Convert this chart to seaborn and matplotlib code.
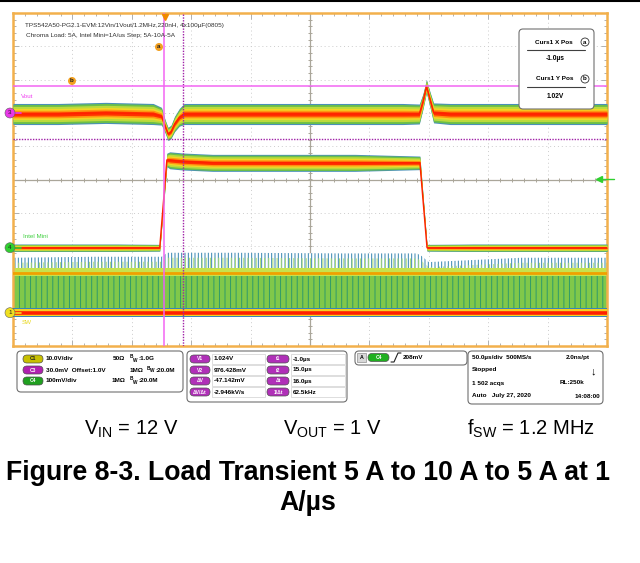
import numpy as np
import matplotlib
matplotlib.use('Agg')
import matplotlib.pyplot as plt
import matplotlib.transforms as mtransforms
from matplotlib.patches import FancyBboxPatch, Circle, Rectangle
from matplotlib.lines import Line2D
from matplotlib.ticker import MultipleLocator
import seaborn as sns

# ---- values (time in us) ----
# C3: Vout, volts
vout_t = [-128, -90, -50, -10, -3, 0, 2.5, 5, 8, 12, 16, 40, 100, 160, 200, 214, 217, 220, 223, 226, 240, 300, 340, 372]
vout_v = [0.999, 0.999, 1.000, 0.999, 0.997, 0.988, 0.981, 0.983, 0.990, 0.996, 0.999, 0.999, 0.999, 0.999,
          0.999, 0.999, 1.010, 1.024, 1.012, 1.000, 0.999, 0.999, 0.999, 0.999]
vout_noise = [0.0095, 0.0095, 0.0095, 0.0095, 0.008, 0.006, 0.006, 0.006, 0.007, 0.008, 0.0095, 0.0095, 0.0095,
              0.0095, 0.0095, 0.009, 0.007, 0.006, 0.007, 0.009, 0.0095, 0.0095, 0.0095, 0.0095]

# C4: Intel Mini step current, amps (on top of 5 A Chroma load)
load_t = [-128, -40, -4.5, 1.5, 4, 15, 40, 100, 160, 214.5, 220.5, 260, 372]
load_a = [0, 0, 0, 5.17, 5.15, 5.08, 5.0, 5.0, 5.0, 5.0, 0, 0, 0]
load_noise = [0.22, 0.22, 0.2, 0.4, 0.5, 0.5, 0.5, 0.5, 0.5, 0.4, 0.2, 0.22, 0.22]

# C1: SW node, volts (on level and ringing peak envelope)
sw_t = [-128, -60, -3, 2, 60, 150, 212, 216, 222, 240, 300, 372]
sw_peak = [16.5, 16.8, 16.8, 18.0, 18.0, 17.8, 17.8, 17.0, 15.2, 15.5, 16.5, 16.5]
sw_on = 11.8

# cursors and trigger
curs_t = [-1.0, 15.0]
curs_v = [1.024, 0.976428]
trig_mv = 208

# channel setup: (volts per div, offset, position in div)
vout_vdiv, vout_off, vout_pos = 0.030, 1.0, 2.0
load_vdiv, load_sense, load_pos = 0.100, 0.051, -2.05
sw_vdiv, sw_pos = 10.0, -4.0

t_left, t_div = -128, 50

def vout_y(v):
    return vout_pos + (np.asarray(v) - vout_off) / vout_vdiv

def load_y(a):
    return load_pos + np.asarray(a) * load_sense / load_vdiv

def sw_y(v):
    return sw_pos + np.asarray(v) / sw_vdiv

sns.set_theme(style='white')
plt.rcParams['font.family'] = ['Liberation Sans', 'DejaVu Sans']
plt.rcParams['mathtext.default'] = 'regular'
plt.rcParams['hatch.linewidth'] = 0.7
plt.rcParams['text.color'] = 'black'

W, H = 640, 563
fig = plt.figure(figsize=(W / 100, H / 100), dpi=100)
PX = mtransforms.IdentityTransform()

def txt(x, y, s, **kw):
    kw.setdefault('va', 'center')
    kw.setdefault('zorder', 12)
    kw.setdefault('color', 'black')
    fig.text(x, H - y, s, transform=PX, **kw)

def box(x0, y0, x1, y1, ec='#707070', fc='white', r=4, lw=0.8, z=5):
    fig.add_artist(FancyBboxPatch((x0, H - y1), x1 - x0, y1 - y0,
                                  boxstyle=f'round,pad=0,rounding_size={r}',
                                  transform=PX, ec=ec, fc=fc, lw=lw, zorder=z))

def hline(x0, x1, y, **kw):
    fig.add_artist(Line2D([x0, x1], [H - y, H - y], transform=PX, **kw))

ax = fig.add_axes([13 / W, (H - 346) / H, 594 / W, 333 / H])
ax.set_xlim(t_left, t_left + 10 * t_div)
ax.set_ylim(-5, 5)
ax.set_facecolor('white')

# graticule
ax.xaxis.set_major_locator(MultipleLocator(50, offset=22))
ax.xaxis.set_minor_locator(MultipleLocator(10, offset=2))
ax.yaxis.set_major_locator(MultipleLocator(1))
ax.yaxis.set_minor_locator(MultipleLocator(0.2))
ax.grid(True, which='major', color='#cccccc', ls=(0, (1, 3)), lw=0.7)
ax.tick_params(which='both', direction='in', top=True, right=True, bottom=True, left=True,
               labelbottom=False, labelleft=False, color='#b0b0b0', width=0.7)
ax.tick_params(which='major', length=4)
ax.tick_params(which='minor', length=2.5)
for s in ax.spines.values():
    s.set_color('#f2b04c')
    s.set_linewidth(1.8)
t_mid = t_left + 5 * t_div
ax.axhline(0, color='#aaa69a', lw=0.9, zorder=1)
ax.axvline(t_mid, color='#aaa69a', lw=0.9, zorder=1)
ax.plot(np.arange(t_left, t_left + 501, 10), np.zeros(51), ls='none', marker='|', ms=3.5, color='#aaa69a', mew=0.7)
ax.plot(np.full(51, t_mid), np.arange(-5, 5.01, 0.2), ls='none', marker='_', ms=3.5, color='#aaa69a', mew=0.7)

# persistence colour layers
LAYERS = [(1.0, '#4a90b8'), (0.9, '#6cbf48'), (0.72, '#bcda3c'), (0.52, '#f2d626'),
          (0.36, '#ff9410'), (0.2, '#ff3000')]

def persist(t, yc, hw):
    yc = np.asarray(yc)
    hw = np.asarray(hw)
    for f, c in LAYERS:
        ax.fill_between(t, yc - f * hw, yc + f * hw, color=c, lw=0, zorder=3)
    sns.lineplot(x=t, y=yc, ax=ax, color='#ff2000', lw=1.0, sort=False, estimator=None, zorder=4)

# SW node: dense switching band
sw_top = sw_y(sw_peak)
on_y = float(sw_y(sw_on))
ax.fill_between(sw_t, on_y, sw_top, facecolor='white', edgecolor='#3584b0', hatch='|||||', lw=0, zorder=2)
ax.fill_between(sw_t, on_y + 0.05, sw_top - 0.15, facecolor='none', edgecolor='#a8dc70', hatch='||||', lw=0, zorder=2)
ax.fill_between(sw_t, sw_pos, on_y, facecolor='#80c84a', edgecolor='#2f9a6a', hatch='|||', lw=0, zorder=2)
ax.fill_between(sw_t, on_y - 0.08, on_y + 0.15, color='#c6e24e', lw=0, zorder=2)
sns.lineplot(x=sw_t, y=[on_y] * len(sw_t), ax=ax, color='#f0a000', lw=2.0, zorder=3)
ax.fill_between(sw_t, sw_pos - 0.14, sw_pos + 0.14, color='#3a84b8', lw=0, zorder=3)
ax.fill_between(sw_t, sw_pos - 0.1, sw_pos + 0.1, color='#f4d020', lw=0, zorder=3)
sns.lineplot(x=sw_t, y=[sw_pos] * len(sw_t), ax=ax, color='#ff2000', lw=2.6, zorder=4)

# Load current and Vout
persist(load_t, load_y(load_a), np.asarray(load_noise) * load_sense / load_vdiv)
persist(vout_t, vout_y(vout_v), np.asarray(vout_noise) / vout_vdiv)

# cursors
ax.axvline(curs_t[0], color='#f266f2', lw=1.1, zorder=6)
ax.axvline(curs_t[1], color='#a020a8', lw=1.0, ls=(0, (1, 1)), zorder=6)
ax.axhline(float(vout_y(curs_v[0])), color='#f266f2', lw=1.1, zorder=6)
ax.axhline(float(vout_y(curs_v[1])), color='#a020a8', lw=1.0, ls=(0, (1, 1)), zorder=6)

# trigger marks
ax.plot([0], [4.88], marker='v', ms=5, color='#f08a00', clip_on=False, zorder=7)
trig_y = float(load_y(0) + trig_mv / 1000 / load_vdiv)
ax.plot([365], [trig_y], marker='<', ms=5, color='#30d030', clip_on=False, zorder=7)
ax.plot([365, 378], [trig_y, trig_y], color='#30d030', lw=1.0, clip_on=False, zorder=7)

# screen annotations
txt(25, 25, 'TPS542A50-PG2.1-EVM:12Vin/1Vout/1.2MHz,220nH, 4x100\u00b5F(0805)', fontsize=4.6, color='#303030')
txt(26, 36, 'Chroma Load: 5A, Intel Mini=1A/us Step; 5A-10A-5A', fontsize=4.6, color='#303030')
for x, y, s in [(159, 47, 'a'), (72, 81, 'b')]:
    fig.add_artist(Circle((x, H - y), 4, transform=PX, fc='#f2a020', ec='none', zorder=8))
    txt(x, y, s, fontsize=4.5, ha='center', fontweight='bold', color='#202020')
txt(21, 96, 'Vout', fontsize=4.5, color='#f040f0')
txt(23, 237, 'Intel Mini', fontsize=4.5, color='#40d040')
txt(22, 323, 'SW', fontsize=4.5, color='#e8d820')
for y, s, c in [(113, '3', '#e838e8'), (247.7, '4', '#30d030'), (312.7, '1', '#f0e020')]:
    fig.add_artist(Line2D([12, 21], [H - y, H - y], transform=PX, color=c, lw=1.2, zorder=8))
    fig.add_artist(Circle((10, H - y), 5, transform=PX, fc=c, ec='#606060', lw=0.4, zorder=9))
    txt(10, y, s, fontsize=4.5, ha='center', color='#202020')

# cursor readout
box(519, 29, 594, 109, r=4, z=8)
txt(573, 42, 'Curs1 X Pos', fontsize=4.6, ha='right', fontweight='bold')
txt(573, 79, 'Curs1 Y Pos', fontsize=4.6, ha='right', fontweight='bold')
for y, s in [(42, 'a'), (79, 'b')]:
    fig.add_artist(Circle((585, H - y), 4, transform=PX, fc='white', ec='#303030', lw=0.6, zorder=9))
    txt(585, y, s, fontsize=4.5, ha='center', fontweight='bold')
hline(527, 585, 50, color='#404040', lw=0.8, zorder=9)
hline(527, 585, 87, color='#404040', lw=0.8, zorder=9)
txt(555, 59, '-1.0\u00b5s', fontsize=4.8, ha='center', fontweight='bold')
txt(555, 96, '1.02V', fontsize=4.8, ha='center', fontweight='bold')

# ---- info panel under the screen ----
FS = 4.6
def pill(x0, x1, y, fc, label, tc='white'):
    box(x0, y - 4, x1, y + 4, ec='#505050', fc=fc, r=4, lw=0.5, z=6)
    txt((x0 + x1) / 2, y, label, fontsize=3.6, ha='center', color=tc, fontweight='bold')

def bw(x, y, rest):
    txt(x, y - 2, 'B', fontsize=3.4, fontweight='bold')
    txt(x + 3, y + 1, 'W', fontsize=3.4, fontweight='bold')
    txt(x + 8, y, ':' + rest, fontsize=FS, fontweight='bold')

box(17, 351, 183, 392, z=4)
rows1 = [(359, '#c8c000', 'C1', '10.0V/div', 113, '50\u03a9', 130, '1.0G', '#202020'),
         (370, '#b020b0', 'C3', '30.0mV  Offset:1.0V', 130, '1M\u03a9', 147, '20.0M', 'white'),
         (381, '#20a020', 'C4', '100mV/div', 112, '1M\u03a9', 130, '20.0M', 'white')]
for y, c, lab, s, xo, ohm, xb, bwv, tc in rows1:
    pill(23, 43, y, c, lab, tc)
    txt(46, y, s, fontsize=FS, fontweight='bold')
    txt(xo, y, ohm, fontsize=FS, fontweight='bold')
    bw(xb, y, bwv)

box(187, 351, 347, 402, z=4)
rows2 = [(359, 'V1', '1.024V', 't1', '-1.0\u00b5s'),
         (370, 'V2', '976.428mV', 't2', '15.0\u00b5s'),
         (381, '\u0394V', '-47.142mV', '\u0394t', '16.0\u00b5s'),
         (392, '\u0394V/\u0394t', '-2.946kV/s', '1/\u0394t', '62.5kHz')]
for y, l1, v1, l2, v2 in rows2:
    pill(190, 210, y, '#b030b8', l1)
    pill(267, 289, y, '#b030b8', l2)
    for x0, x1 in [(212, 265), (291, 345)]:
        fig.add_artist(Rectangle((x0, H - y - 5), x1 - x0, 10, transform=PX, fc='white', ec='#d0d0d0', lw=0.5, zorder=5))
    txt(214, y, v1, fontsize=FS, fontweight='bold')
    txt(293, y, v2, fontsize=FS, fontweight='bold')

box(355, 351, 467, 365, z=4)
fig.add_artist(Rectangle((357, H - 362), 9, 9, transform=PX, fc='#d8d8d8', ec='#909090', lw=0.5, zorder=6))
txt(361.5, 357.5, 'A', fontsize=3.8, ha='center', fontweight='bold')
pill(368, 389, 357.5, '#20b020', 'C4')
fig.add_artist(Line2D([391, 394, 398, 401], [H - 362, H - 362, H - 353, H - 353], transform=PX, color='#202020', lw=0.8, zorder=7))
txt(403, 357.5, '208mV', fontsize=FS, fontweight='bold')

box(468, 351, 603, 404, z=4)
txt(472, 357, '50.0\u00b5s/div  500MS/s', fontsize=FS, fontweight='bold')
txt(590, 357, '2.0ns/pt', fontsize=FS, fontweight='bold', ha='right')
txt(472, 370, 'Stopped', fontsize=FS, fontweight='bold')
txt(593, 371, '\u2193', fontsize=8, fontweight='bold', ha='center')
txt(472, 383, '1 502 acqs', fontsize=FS, fontweight='bold')
txt(584, 383, 'RL:250k', fontsize=FS, fontweight='bold', ha='right')
txt(472, 396, 'Auto   July 27, 2020', fontsize=FS, fontweight='bold')
txt(600, 396, '14:08:00', fontsize=FS, fontweight='bold', ha='right')

# top rule
fig.add_artist(Line2D([0, W], [H - 1, H - 1], transform=PX, color='black', lw=1.5))

# captions
txt(131, 429, r'V$_{IN}$ = 12 V', fontsize=14.5, ha='center')
txt(332, 429, r'V$_{OUT}$ = 1 V', fontsize=14.5, ha='center')
txt(531, 429, r'f$_{SW}$ = 1.2 MHz', fontsize=14.5, ha='center')
txt(308, 473, 'Figure 8-3. Load Transient 5 A to 10 A to 5 A at 1', fontsize=19.2, fontweight='bold', ha='center')
txt(308, 503, 'A/\u00b5s', fontsize=19.2, fontweight='bold', ha='center')

fig.savefig('out.png', dpi=100)
